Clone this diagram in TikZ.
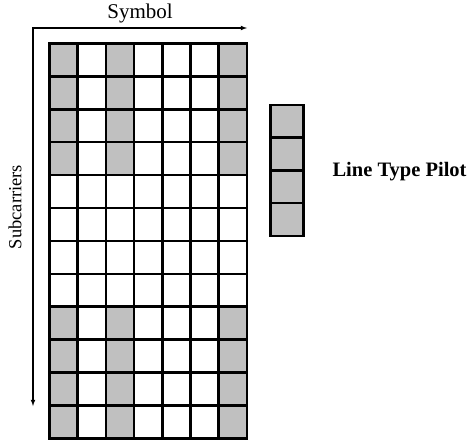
\documentclass[tikz,border=0pt]{standalone}
\usepackage{fontspec}
\setmainfont{Liberation Serif}
\definecolor{pilotgray}{RGB}{192,192,192}
\tikzset{cell/.style = {shape=rectangle,draw,line width=2.5pt,minimum width=28.2pt,minimum height=32.9pt,inner sep=0pt}}
\tikzset{pilotcell/.style = {cell,fill=pilotgray,minimum width=32.6pt,minimum height=32.7pt}}
\tikzset{axis/.style = {<->,> = latex,line width=1.1pt}}

\begin{document}
\begin{tikzpicture}[x=1pt,y=-1pt,font=\fontsize{21}{24}\selectfont]
        \useasboundingbox (0,0) rectangle (468,441);

        % time-frequency grid
        \foreach \r in {1,...,12}
          \foreach \c in {1,...,7} {
            \pgfmathtruncatemacro\isp{((\r<5)||(\r>8))&&((\c==1)||(\c==3)||(\c==7))}
            \ifnum\isp=1 \def\cellfill{pilotgray}\else\def\cellfill{white}\fi
            \node[cell,fill=\cellfill] (c-\r-\c) at ({49.5+28.2*(\c-0.5)},{43.5+32.9*(\r-0.5)}) {};
          }

        % legend
        \foreach \r in {1,...,4}
          \node[pilotcell] (p-\r) at (287,{105+32.7*(\r-0.5)}) {};
        \node[anchor=west,font=\fontsize{20.5}{24}\selectfont\bfseries] (pilotlabel) at (329,172) {Line Type Pilot};

        % axes
        \coordinate (origin) at (33,28);
        \coordinate (symend) at (247,28);
        \coordinate (subend) at (33,406);
        \draw[axis] (symend) -- (origin) -- (subend);
        \node (symlabel) at (140,13) {Symbol};
        \node[rotate=90,font=\fontsize{18.5}{22}\selectfont] (sublabel) at (15,207) {Subcarriers};
      \end{tikzpicture}
\end{document}
